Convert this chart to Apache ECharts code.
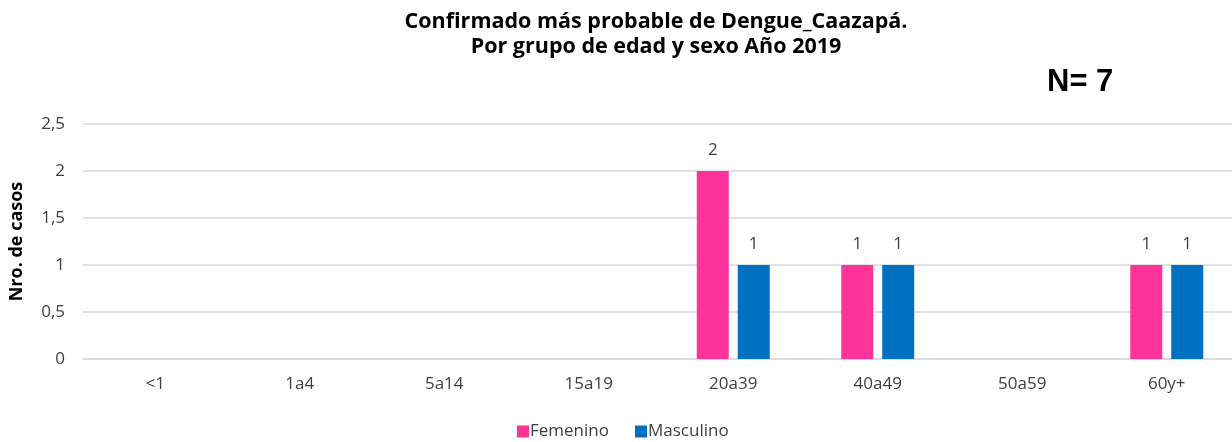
<!DOCTYPE html>
<html><head><meta charset="utf-8">
<script src="https://cdn.jsdelivr.net/npm/echarts@6/dist/echarts.min.js"></script>
<style>html,body{margin:0;padding:0;background:#fff;overflow:hidden}#c{width:1250px;height:442px}</style>
</head><body><div id="c"></div>
<script>
const categories = ['<1','1a4','5a14','15a19','20a39','40a49','50a59','60y+'];
const femenino = [0,0,0,0,2,1,0,1];
const masculino = [0,0,0,0,1,1,0,1];
const yTicks = [0,0.5,1,1.5,2,2.5];
const titleLines = ['Confirmado más probable de Dengue_Caazapá.','Por grupo de edad y sexo Año 2019'];
const nText = 'N= 7';
const yName = 'Nro. de casos';

const font = '"Open Sans", "Noto Sans", sans-serif';
const chart = echarts.init(document.getElementById('c'), null, {renderer:'canvas'});
const lbl = v => v.value ? String(v.value) : '';
chart.setOption({
  animation:false,
  title:[
    {text: titleLines.join('\n'), left: 651, top: 4, textAlign:'center',
     textStyle:{fontFamily:font, fontWeight:'bold', fontSize:21.5, color:'#000', lineHeight:25}},
    {text: nText, left: 1042, top: 62,
     textStyle:{fontFamily:'"Liberation Sans", Arial, sans-serif', fontWeight:'bold', fontSize:31, color:'#000'}}
  ],
  legend:{top: 418, left: 512, itemWidth:12, itemHeight:12, itemGap:26,
    icon:'rect', textStyle:{fontFamily:font, fontSize:17, color:'#404040', padding:[0,0,0,-4]},
    data:['Femenino','Masculino']},
  grid:{left:79, top:124, width:1160, height:235, containLabel:false},
  xAxis:{type:'category', data:categories,
    axisLine:{show:true, lineStyle:{color:'#d9d9d9', width:1.5}},
    axisTick:{show:false},
    axisLabel:{fontFamily:font, fontSize:17, color:'#404040', margin:17}},
  yAxis:{type:'value', min:0, max:2.5, interval:0.5,
    name: yName, nameLocation:'middle', nameGap:57, nameRotate:90,
    nameTextStyle:{fontFamily:font, fontWeight:'bold', fontSize:18, color:'#000'},
    axisLine:{show:false}, axisTick:{show:false},
    splitLine:{lineStyle:{color:'#d9d9d9', width:1.5}},
    axisLabel:{fontFamily:font, fontSize:17, color:'#404040', margin:18,
      formatter: v => yTicks.includes(v) ? String(v).replace('.',',') : ''}},
  series:[
    {name:'Femenino', type:'bar', data:femenino, barWidth:32, barGap:'28%',
     itemStyle:{color:'#ff3399'},
     label:{show:true, position:'top', distance:12, formatter:lbl, fontFamily:font, fontSize:17, color:'#404040'}},
    {name:'Masculino', type:'bar', data:masculino, barWidth:32,
     itemStyle:{color:'#0070c0'},
     label:{show:true, position:'top', distance:12, formatter:lbl, fontFamily:font, fontSize:17, color:'#404040'}}
  ]
});
</script></body></html>
